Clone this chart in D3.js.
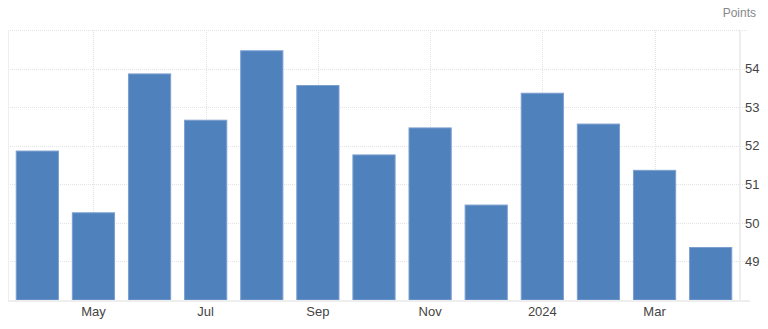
<!DOCTYPE html>
<html>
<head>
<meta charset="utf-8">
<script src="https://cdn.jsdelivr.net/npm/d3@7"></script>
<style>
  body { margin: 0; background: #fff; }
  text { font-family: Arial, "Liberation Sans", sans-serif; }
</style>
</head>
<body>
<div id="chart"></div>
<script>
// monthly values, Apr 2023 - Apr 2024
let months = ["2023-04", "2023-05", "2023-06", "2023-07", "2023-08", "2023-09", "2023-10",
              "2023-11", "2023-12", "2024-01", "2024-02", "2024-03", "2024-04"]
let values = [51.9, 50.3, 53.9, 52.7, 54.5, 53.6, 51.8, 52.5, 50.5, 53.4, 52.6, 51.4, 49.4]
let tickLabels = {"2023-05": "May", "2023-07": "Jul", "2023-09": "Sep", "2023-11": "Nov", "2024-01": "2024", "2024-03": "Mar"}
let yTicks = [49, 50, 51, 52, 53, 54]

var width = 768, height = 329
var margin = {top: 30, right: 28, bottom: 28, left: 8}

var svg = d3.select("#chart")
  .append("svg")
  .attr("width", width)
  .attr("height", height)

var x = d3.scaleBand()
  .domain(months)
  .range([margin.left + 1, width - margin.right - 1])
  .paddingInner(0.23)
  .paddingOuter(0.12)

var y = d3.scaleLinear()
  .domain([48, 55])
  .range([height - margin.bottom - 1, margin.top])

// horizontal gridlines
svg.append("g")
  .selectAll("line")
  .data(yTicks.concat([55]))
  .join("line")
  .attr("x1", margin.left)
  .attr("x2", width - margin.right + 8)
  .attr("y1", d => Math.round(y(d)) + 0.5)
  .attr("y2", d => Math.round(y(d)) + 0.5)
  .attr("stroke", "#e3e3e3")
  .attr("stroke-dasharray", "1,1")

// vertical gridlines at the labelled months
svg.append("g")
  .selectAll("line")
  .data(Object.keys(tickLabels))
  .join("line")
  .attr("x1", d => Math.round(x(d) + x.bandwidth() / 2) + 0.5)
  .attr("x2", d => Math.round(x(d) + x.bandwidth() / 2) + 0.5)
  .attr("y1", margin.top)
  .attr("y2", y(48))
  .attr("stroke", "#e3e3e3")
  .attr("stroke-dasharray", "1,1")

// left border
svg.append("line")
  .attr("x1", margin.left + 0.5).attr("x2", margin.left + 0.5)
  .attr("y1", margin.top).attr("y2", y(48))
  .attr("stroke", "#eeeeee")

// right border
svg.append("line")
  .attr("x1", width - margin.right).attr("x2", width - margin.right)
  .attr("y1", margin.top).attr("y2", y(48) + 1)
  .attr("stroke", "#eeeeee")
  .attr("stroke-width", 2)

// bars (light 1px border like the original)
svg.append("g")
  .selectAll("rect")
  .data(months)
  .join("rect")
  .attr("x", d => x(d) + 0.5)
  .attr("width", x.bandwidth() - 1)
  .attr("y", (d, i) => y(values[i]) + 1.5)
  .attr("height", (d, i) => y(48) - y(values[i]) - 1.5)
  .attr("fill", "#4f81bd")
  .attr("stroke", "#7d9fd0")
  .attr("stroke-width", 1)

// baseline
svg.append("line")
  .attr("x1", margin.left).attr("x2", width - margin.right + 10)
  .attr("y1", y(48) + 1).attr("y2", y(48) + 1)
  .attr("stroke", "#eeeeee")
  .attr("stroke-width", 2)

// y axis labels
svg.append("g")
  .attr("transform", `translate(${width - margin.right + 5},0)`)
  .call(d3.axisRight(y).tickValues(yTicks).tickFormat(d3.format("d")).tickSize(0).tickPadding(0))
  .call(g => g.select(".domain").remove())
  .call(g => g.selectAll("text")
    .attr("font-family", "Arial, 'Liberation Sans', sans-serif")
    .attr("font-size", 13)
    .attr("fill", "#444"))

// x axis labels
svg.append("g")
  .attr("transform", `translate(0,${y(48) + 4})`)
  .call(d3.axisBottom(x).tickValues(Object.keys(tickLabels)).tickFormat(d => tickLabels[d]).tickSize(0).tickPadding(3))
  .call(g => g.select(".domain").remove())
  .call(g => g.selectAll("text")
    .attr("font-family", "Arial, 'Liberation Sans', sans-serif")
    .attr("font-size", 13)
    .attr("fill", "#444"))

// unit label
svg.append("text")
  .attr("x", 756)
  .attr("y", 17)
  .attr("text-anchor", "end")
  .attr("font-size", 12)
  .attr("fill", "#888")
  .text("Points")
</script>
</body>
</html>
